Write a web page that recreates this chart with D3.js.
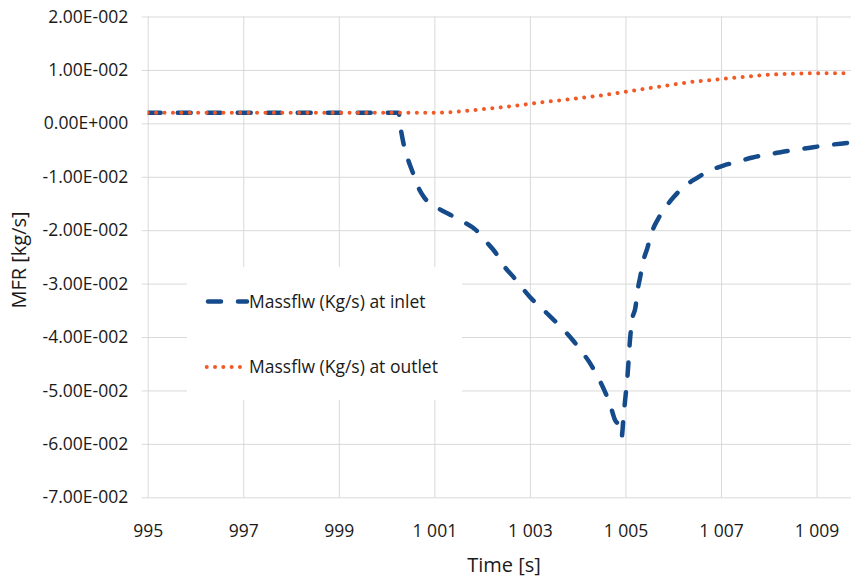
<!DOCTYPE html>
<html>
<head>
<meta charset="utf-8">
<script src="https://cdn.jsdelivr.net/npm/d3@7"></script>
<style>
  html, body { margin: 0; padding: 0; background: #fff; }
  svg { display: block; font-family: "Open Sans", sans-serif; }
</style>
</head>
<body>
<svg id="chart" width="851" height="579"></svg>
<script>
// ---- data ----
const inletTime = [995, 1000.25, 1000.3, 1000.35, 1000.45, 1000.54, 1000.66, 1000.79, 1001.06, 1001.33, 1001.6, 1001.86, 1002.09, 1002.28, 1002.44, 1002.65, 1003.0, 1003.35, 1003.7, 1003.89, 1004.1, 1004.28, 1004.43, 1004.57, 1004.68, 1004.78, 1004.87, 1004.92, 1004.96, 1005.0, 1005.04, 1005.1, 1005.14, 1005.21, 1005.25, 1005.31, 1005.37, 1005.46, 1005.54, 1005.69, 1005.8, 1006.01, 1006.18, 1006.5, 1006.73, 1007.05, 1007.3, 1007.66, 1007.93, 1008.25, 1008.52, 1008.83, 1009.14, 1009.5, 1009.7];
const inletFlow = [0.002, 0.002, -0.0012, -0.0036, -0.0068, -0.009, -0.0119, -0.0139, -0.0158, -0.0171, -0.0184, -0.0199, -0.0222, -0.0242, -0.0265, -0.0287, -0.0325, -0.0355, -0.0386, -0.0405, -0.0429, -0.0452, -0.0476, -0.0502, -0.0527, -0.0555, -0.0568, -0.0587, -0.0549, -0.0512, -0.0476, -0.040, -0.0368, -0.0344, -0.0315, -0.0287, -0.0259, -0.0233, -0.0207, -0.0178, -0.0162, -0.0138, -0.0122, -0.0102, -0.009, -0.0079, -0.0073, -0.0064, -0.0059, -0.0054, -0.0050, -0.0046, -0.0042, -0.0038, -0.0036];
const outletTime = [995, 1000.5, 1001.05, 1001.5, 1001.96, 1002.4, 1002.87, 1003.3, 1003.74, 1004.1, 1004.47, 1005.0, 1005.35, 1005.73, 1006.1, 1006.43, 1006.8, 1007.13, 1007.5, 1007.86, 1008.2, 1008.56, 1009.29, 1009.7];
const outletFlow = [0.002, 0.002, 0.002, 0.0022, 0.0026, 0.003, 0.0035, 0.004, 0.0044, 0.0048, 0.0052, 0.0059, 0.0064, 0.0069, 0.0074, 0.0078, 0.0081, 0.0084, 0.0087, 0.009, 0.0092, 0.0093, 0.0094, 0.0094];
const seriesNames = ["Massflw (Kg/s) at inlet", "Massflw (Kg/s) at outlet"];
const xTickValues = [995, 997, 999, 1001, 1003, 1005, 1007, 1009];
const xTickLabels = ["995", "997", "999", "1 001", "1 003", "1 005", "1 007", "1 009"];
const yTickValues = [0.02, 0.01, 0, -0.01, -0.02, -0.03, -0.04, -0.05, -0.06, -0.07];
const yTickLabels = ["2.00E-002", "1.00E-002", "0.00E+000", "-1.00E-002", "-2.00E-002", "-3.00E-002", "-4.00E-002", "-5.00E-002", "-6.00E-002", "-7.00E-002"];
const xTitle = "Time [s]";
const yTitle = "MFR [kg/s]";

// ---- layout ----
const svg = d3.select("#chart");
const pL = 147.7, pR = 851, pT = 16.5, pB = 497.3;
const x = d3.scaleLinear().domain([995, 1009.7]).range([pL, 850]);
const y = d3.scaleLinear().domain([-0.07, 0.02]).range([pB, pT]);
const grid = "#d9d9d9";
const blue = "#154b8a";
const orange = "#f15a27";
const ink = "#1a1a1a";

// horizontal gridlines + y labels
const yAxis = d3.axisLeft(y).tickValues(yTickValues)
  .tickFormat((d, i) => yTickLabels[i])
  .tickSize(-(pR - pL)).tickPadding(14);
const gy = svg.append("g").attr("transform", `translate(${pL},0)`).call(yAxis);
gy.select(".domain").remove();
gy.selectAll(".tick line").attr("stroke", grid).attr("x1", -6).attr("x2", pR - pL);
gy.selectAll(".tick text").attr("font-size", 17.5).attr("fill", ink)
  .attr("font-family", "Open Sans").attr("x", -19.5);

// vertical gridlines + x labels
const xAxis = d3.axisBottom(x).tickValues(xTickValues)
  .tickFormat((d, i) => xTickLabels[i])
  .tickSize(-(pB - pT)).tickPadding(14);
const gx = svg.append("g").attr("transform", `translate(0,${pB})`).call(xAxis);
gx.select(".domain").remove();
gx.selectAll(".tick line").attr("stroke", grid).attr("y1", 0);
gx.selectAll(".tick text").attr("font-size", 17.5).attr("fill", ink)
  .attr("font-family", "Open Sans").attr("y", 537 - pB).attr("dy", 0);

// axis titles
svg.append("text").attr("x", 504).attr("y", 572).attr("text-anchor", "middle")
  .attr("font-size", 20).attr("fill", ink).text(xTitle);
svg.append("text").attr("transform", "translate(26,260) rotate(-90)")
  .attr("text-anchor", "middle").attr("font-size", 20).attr("fill", ink).text(yTitle);

// legend box
svg.append("rect").attr("x", 187).attr("y", 267).attr("width", 275).attr("height", 133).attr("fill", "#fff");

// series
svg.append("clipPath").attr("id", "clip").append("rect")
  .attr("x", pL).attr("y", 0).attr("width", 850 - pL + 1).attr("height", 579);
const line = d3.line().x(d => x(d[0])).y(d => y(d[1])).curve(d3.curveMonotoneX);
const inlet = inletTime.map((t, i) => [t, inletFlow[i]]);
const outlet = outletTime.map((t, i) => [t, outletFlow[i]]);
const plot = svg.append("g").attr("clip-path", "url(#clip)");
plot.append("path").datum(inlet).attr("d", line).attr("fill", "none")
  .attr("stroke", blue).attr("stroke-width", 4.5).attr("stroke-linecap", "round")
  .attr("stroke-dasharray", "13,17");
plot.append("path").datum(outlet).attr("d", line).attr("fill", "none")
  .attr("stroke", orange).attr("stroke-width", 4).attr("stroke-linecap", "round")
  .attr("stroke-dasharray", "0.01,8.4");

// legend
const lg = svg.append("g");
lg.append("line").attr("x1", 208).attr("x2", 247).attr("y1", 301.5).attr("y2", 301.5)
  .attr("stroke", blue).attr("stroke-width", 4.5).attr("stroke-linecap", "round")
  .attr("stroke-dasharray", "13,17");
lg.append("text").attr("x", 249).attr("y", 301.5).attr("dy", "0.35em")
  .attr("font-size", 17.5).attr("fill", ink).text(seriesNames[0]);
lg.append("line").attr("x1", 206.7).attr("x2", 242).attr("y1", 367).attr("y2", 367)
  .attr("stroke", orange).attr("stroke-width", 4).attr("stroke-linecap", "round")
  .attr("stroke-dasharray", "0.01,8.3");
lg.append("text").attr("x", 249).attr("y", 367).attr("dy", "0.35em")
  .attr("font-size", 17.5).attr("fill", ink).text(seriesNames[1]);
</script>
</body>
</html>
